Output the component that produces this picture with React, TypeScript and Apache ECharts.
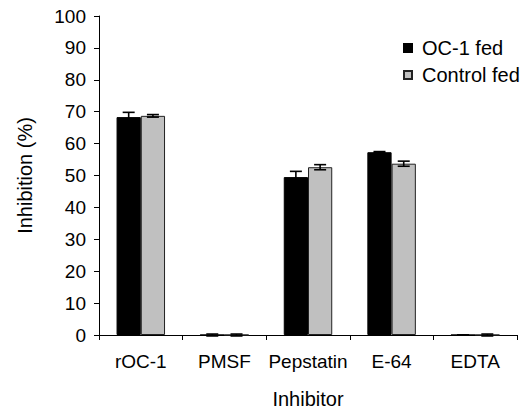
import React, { useEffect, useRef } from "react";
import * as echarts from "echarts";

const categories = ["rOC-1", "PMSF", "Pepstatin", "E-64", "EDTA"];
const seriesNames = ["OC-1 fed", "Control fed"];
const oc1Values = [68.3, 0, 49.5, 57.3, 0];
const oc1Errors = [1.5, 0.3, 1.8, 0.2, 0.05];
const controlValues = [68.7, 0, 52.6, 53.7, 0];
const controlErrors = [0.4, 0.3, 0.8, 0.8, 0.3];
const yTicks = { min: 0, max: 100, interval: 10 };

const FONT = "Liberation Sans, Arial, Helvetica, sans-serif";
const BAR_FRAC = 0.29;

function errorSeries(values: number[], errors: number[], side: number) {
  const data = values.map((v, i) => [i, v, v - errors[i], v + errors[i]]);
  return {
    type: "custom",
    silent: true,
    z: 10,
    data,
    encode: { x: 0, y: [1, 2, 3] },
    renderItem: (params: any, api: any) => {
      const i = api.value(0);
      const lo = api.coord([i, api.value(2)]);
      const hi = api.coord([i, api.value(3)]);
      const bw = api.size([1, 0])[0] * BAR_FRAC;
      const x = lo[0] + (side * bw) / 2;
      const cap = 6;
      const style = { stroke: "#000", lineWidth: 1.6, fill: "none" };
      return {
        type: "group",
        children: [
          { type: "line", shape: { x1: x, y1: lo[1], x2: x, y2: hi[1] }, style },
          { type: "line", shape: { x1: x - cap, y1: hi[1], x2: x + cap, y2: hi[1] }, style },
          { type: "line", shape: { x1: x - cap, y1: lo[1], x2: x + cap, y2: lo[1] }, style },
        ],
      };
    },
  };
}

export default function App() {
  const ref = useRef<HTMLDivElement>(null);
  useEffect(() => {
    if (!ref.current) return;
    const chart = echarts.init(ref.current, undefined, { renderer: "svg" });
    chart.setOption({
      animation: false,
      backgroundColor: "#fff",
      textStyle: { fontFamily: FONT, color: "#000" },
      grid: { left: 99, right: 9, top: 16, bottom: 75 },
      legend: {
        orient: "vertical",
        left: 398,
        top: 33,
        itemWidth: 8,
        itemHeight: 8,
        itemGap: 7,
        icon: "rect",
        data: seriesNames,
        textStyle: { fontSize: 20, fontFamily: FONT, color: "#000", padding: [0, 0, 0, 5] },
      },
      xAxis: {
        type: "category",
        data: categories,
        name: "Inhibitor",
        nameLocation: "middle",
        nameGap: 54,
        nameTextStyle: { fontSize: 20, fontFamily: FONT, color: "#000" },
        axisLine: { show: true, lineStyle: { color: "#000", width: 1 } },
        axisTick: { show: true, inside: false, length: 5, lineStyle: { color: "#000" } },
        axisLabel: { interval: 0, fontSize: 19, fontFamily: FONT, color: "#000", margin: 17 },
        splitLine: { show: false },
      },
      yAxis: {
        type: "value",
        min: yTicks.min,
        max: yTicks.max,
        interval: yTicks.interval,
        name: "Inhibition (%)",
        nameLocation: "middle",
        nameRotate: 90,
        nameGap: 64,
        nameTextStyle: { fontSize: 20, fontFamily: FONT, color: "#000" },
        axisLine: { show: true, lineStyle: { color: "#000", width: 1 } },
        axisTick: { show: true, inside: false, length: 5, lineStyle: { color: "#000" } },
        axisLabel: { fontSize: 19, fontFamily: FONT, color: "#000", margin: 13 },
        splitLine: { show: false },
      },
      series: [
        {
          name: seriesNames[0],
          type: "bar",
          data: oc1Values,
          barWidth: `${BAR_FRAC * 100}%`,
          barGap: "0%",
          itemStyle: { color: "#000", borderColor: "#000", borderWidth: 1 },
        },
        {
          name: seriesNames[1],
          type: "bar",
          data: controlValues,
          barWidth: `${BAR_FRAC * 100}%`,
          barGap: "0%",
          itemStyle: { color: "#c0c0c0", borderColor: "#222", borderWidth: 1 },
        },
        errorSeries(oc1Values, oc1Errors, -1),
        errorSeries(controlValues, controlErrors, 1),
      ],
    });
    return () => chart.dispose();
  }, []);
  return (
    <div
      ref={ref}
      style={{ position: "fixed", left: 0, top: 0, width: 526, height: 414 }}
    />
  );
}
